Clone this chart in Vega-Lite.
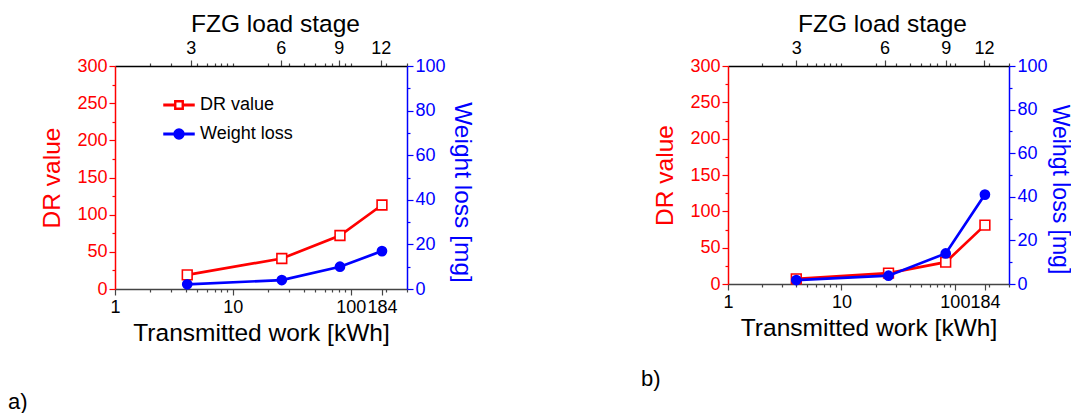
{
  "$schema": "https://vega.github.io/schema/vega-lite/v6.json",
  "padding": {"left": 8, "top": 11, "right": 0, "bottom": 0},
  "background": "white",
  "config": {
    "view": {"stroke": null},
    "font": "Liberation Sans",
    "axis": {"grid": false, "labelFont": "Liberation Sans", "titleFont": "Liberation Sans", "labelFontSize": 18, "titleFontSize": 24.5, "titleFontWeight": "normal", "labelOverlap": false, "labelFlush": false, "labelBound": false, "domainWidth": 1.5, "tickWidth": 1.2}
  },
  "datasets": {
    "a": [
      {"work": 4.1, "series": "DR value", "value": 19},
      {"work": 26, "series": "DR value", "value": 41},
      {"work": 81, "series": "DR value", "value": 72},
      {"work": 184, "series": "DR value", "value": 113},
      {"work": 4.1, "series": "Weight loss", "value": 2.1},
      {"work": 26, "series": "Weight loss", "value": 4.0},
      {"work": 81, "series": "Weight loss", "value": 10},
      {"work": 184, "series": "Weight loss", "value": 17}
    ],
    "b": [
      {"work": 4.0, "series": "DR value", "value": 7},
      {"work": 26, "series": "DR value", "value": 15},
      {"work": 83, "series": "DR value", "value": 30},
      {"work": 184, "series": "DR value", "value": 81},
      {"work": 4.0, "series": "Weight loss", "value": 1.8},
      {"work": 26, "series": "Weight loss", "value": 3.8},
      {"work": 83, "series": "Weight loss", "value": 14},
      {"work": 184, "series": "Weight loss", "value": 41}
    ]
  },
  "hconcat": [
    {
      "width": 292, "height": 223,
      "title": {"text": "a)", "orient": "bottom", "anchor": "start", "frame": "group", "dx": -107, "offset": 47, "fontSize": 22, "fontWeight": "normal", "font": "Liberation Sans", "color": "black"},
      "data": {"name": "a"},
      "layer": [
        {
          "transform": [{"filter": "datum.series === 'DR value'"}],
          "mark": {"type": "line", "strokeWidth": 2.7, "point": {"shape": "square", "filled": false, "fill": "white", "size": 95, "strokeWidth": 1.6}},
          "encoding": {
            "x": {"field": "work", "type": "quantitative", "scale": {"type": "log", "domain": [1, 300]},
              "axis": {"orient": "bottom", "title": "Transmitted work [kWh]", "values": [1,2,3,4,5,6,7,8,9,10,20,30,40,50,60,70,80,90,100,184,200,300],
                "labelExpr": "indexof([1,10,100,184], datum.value) >= 0 ? '' + datum.value : ''",
                "tickSize": {"condition": {"test": "indexof([1,10,100,184], datum.value) >= 0", "value": 6}, "value": 3},
                "domainColor": "#444", "tickColor": "#444", "labelColor": "black", "titleColor": "black", "labelPadding": 3, "titlePadding": 5}},
            "y": {"field": "value", "type": "quantitative", "scale": {"domain": [0, 300]},
              "axis": {"orient": "left", "title": "DR value", "values": [0,25,50,75,100,125,150,175,200,225,250,275,300],
                "labelExpr": "datum.value % 50 === 0 ? '' + datum.value : ''",
                "tickSize": {"condition": {"test": "datum.value % 50 === 0", "value": 6}, "value": 3},
                "domainColor": "#ff0000", "tickColor": "#ff0000", "labelColor": "#ff0000", "titleColor": "#ff0000", "labelPadding": 2, "titlePadding": 12}},
            "color": {"field": "series", "type": "nominal", "scale": {"domain": ["DR value", "Weight loss"], "range": ["#ff0000", "#0000ff"]},
              "legend": {"title": null, "orient": "none", "legendX": 48, "legendY": 23, "padding": 0, "symbolSize": 900, "symbolStrokeWidth": 1.5, "labelFontSize": 18, "labelFont": "Liberation Sans", "labelColor": "black", "labelOffset": 5, "rowPadding": 4,
                "encode": {"symbols": {"update": {
                  "shape": {"signal": "datum.value === 'DR value' ? 'M-1,-0.05H-0.3V0.05H-1ZM0.3,-0.05H1V0.05H0.3ZM-0.28,-0.28H0.28V0.28H-0.28ZM-0.22,-0.22V0.22H0.22V-0.22Z' : 'M-1,-0.05H-0.3V0.05H-1ZM0.3,-0.05H1V0.05H0.3ZM0.33,0A0.33,0.33 0 1 1 -0.33,0A0.33,0.33 0 1 1 0.33,0Z'"}}}}}}
          }
        },
        {
          "transform": [{"filter": "datum.series === 'Weight loss'"}],
          "mark": {"type": "line", "strokeWidth": 2.7, "point": {"shape": "circle", "filled": true, "size": 115}},
          "encoding": {
            "x": {"field": "work", "type": "quantitative", "scale": {"type": "log", "domain": [1, 300]},
              "axis": {"orient": "top", "title": "FZG load stage", "titleX": 160, "values": [2,3,5,6,7,8,9,10,20,30,40,50,60,70,90,100,200,300,4.4,25.5,79,180],
                "labelExpr": "datum.value === 4.4 ? '3' : datum.value === 25.5 ? '6' : datum.value === 79 ? '9' : datum.value === 180 ? '12' : ''",
                "tickSize": {"condition": {"test": "indexof([4.4,25.5,79,180], datum.value) >= 0", "value": 6}, "value": 3},
                "domainColor": "black", "tickColor": "#444", "labelColor": "black", "titleColor": "black", "labelPadding": 3, "titlePadding": 3}},
            "y": {"field": "value", "type": "quantitative", "scale": {"domain": [0, 100]},
              "axis": {"orient": "right", "title": "Weight loss [mg]", "titleY": 126, "values": [0,10,20,30,40,50,60,70,80,90,100],
                "labelExpr": "datum.value % 20 === 0 ? '' + datum.value : ''",
                "tickSize": {"condition": {"test": "datum.value % 20 === 0", "value": 6}, "value": 3},
                "domainColor": "#0000ff", "tickColor": "#0000ff", "labelColor": "#0000ff", "titleColor": "#0000ff", "labelPadding": 2, "titlePadding": 4}},
            "color": {"field": "series", "type": "nominal", "scale": {"domain": ["DR value", "Weight loss"], "range": ["#ff0000", "#0000ff"]},
              "legend": {"title": null, "orient": "none", "legendX": 48, "legendY": 23, "padding": 0, "symbolSize": 900, "symbolStrokeWidth": 1.5, "labelFontSize": 18, "labelFont": "Liberation Sans", "labelColor": "black", "labelOffset": 5, "rowPadding": 4,
                "encode": {"symbols": {"update": {
                  "shape": {"signal": "datum.value === 'DR value' ? 'M-1,-0.05H-0.3V0.05H-1ZM0.3,-0.05H1V0.05H0.3ZM-0.28,-0.28H0.28V0.28H-0.28ZM-0.22,-0.22V0.22H0.22V-0.22Z' : 'M-1,-0.05H-0.3V0.05H-1ZM0.3,-0.05H1V0.05H0.3ZM0.33,0A0.33,0.33 0 1 1 -0.33,0A0.33,0.33 0 1 1 0.33,0Z'"}}}}}}
          }
        }
      ],
      "resolve": {"scale": {"y": "independent"}, "axis": {"x": "independent", "y": "independent"}}
    },
    {
      "width": 281, "height": 218,
      "title": {"text": "b)", "orient": "bottom", "anchor": "start", "frame": "group", "dx": -87, "offset": 29, "fontSize": 22, "fontWeight": "normal", "font": "Liberation Sans", "color": "black"},
      "data": {"name": "b"},
      "layer": [
        {
          "transform": [{"filter": "datum.series === 'DR value'"}],
          "mark": {"type": "line", "strokeWidth": 2.7, "point": {"shape": "square", "filled": false, "fill": "white", "size": 95, "strokeWidth": 1.6}},
          "encoding": {
            "x": {"field": "work", "type": "quantitative", "scale": {"type": "log", "domain": [1, 300]},
              "axis": {"orient": "bottom", "title": "Transmitted work [kWh]", "values": [1,2,3,4,5,6,7,8,9,10,20,30,40,50,60,70,80,90,100,184,200,300],
                "labelExpr": "indexof([1,10,100,184], datum.value) >= 0 ? '' + datum.value : ''",
                "tickSize": {"condition": {"test": "indexof([1,10,100,184], datum.value) >= 0", "value": 6}, "value": 3},
                "domainColor": "#444", "tickColor": "#444", "labelColor": "black", "titleColor": "black", "labelPadding": 3, "titlePadding": 5}},
            "y": {"field": "value", "type": "quantitative", "scale": {"domain": [0, 300]},
              "axis": {"orient": "left", "title": "DR value", "values": [0,25,50,75,100,125,150,175,200,225,250,275,300],
                "labelExpr": "datum.value % 50 === 0 ? '' + datum.value : ''",
                "tickSize": {"condition": {"test": "datum.value % 50 === 0", "value": 6}, "value": 3},
                "domainColor": "#ff0000", "tickColor": "#ff0000", "labelColor": "#ff0000", "titleColor": "#ff0000", "labelPadding": 2, "titlePadding": 12}},
            "color": {"field": "series", "type": "nominal", "scale": {"domain": ["DR value", "Weight loss"], "range": ["#ff0000", "#0000ff"]},
              "legend": {"title": null, "orient": "none", "legendX": 38, "legendY": 19, "padding": 0, "symbolSize": 900, "symbolStrokeWidth": 1.5, "labelFontSize": 18, "labelFont": "Liberation Sans", "labelColor": "black", "labelOffset": 5, "rowPadding": -2,
                "encode": {"symbols": {"update": {
                  "shape": {"signal": "datum.value === 'DR value' ? 'M-1,-0.05H-0.3V0.05H-1ZM0.3,-0.05H1V0.05H0.3ZM-0.28,-0.28H0.28V0.28H-0.28ZM-0.22,-0.22V0.22H0.22V-0.22Z' : 'M-1,-0.05H-0.3V0.05H-1ZM0.3,-0.05H1V0.05H0.3ZM0.33,0A0.33,0.33 0 1 1 -0.33,0A0.33,0.33 0 1 1 0.33,0Z'"}}}}}}
          }
        },
        {
          "transform": [{"filter": "datum.series === 'Weight loss'"}],
          "mark": {"type": "line", "strokeWidth": 2.7, "point": {"shape": "circle", "filled": true, "size": 115}},
          "encoding": {
            "x": {"field": "work", "type": "quantitative", "scale": {"type": "log", "domain": [1, 300]},
              "axis": {"orient": "top", "title": "FZG load stage", "titleX": 154, "values": [2,3,5,6,7,8,9,10,20,30,40,50,60,70,90,100,200,300,4.0,24,83,181],
                "labelExpr": "datum.value === 4 ? '3' : datum.value === 24 ? '6' : datum.value === 83 ? '9' : datum.value === 181 ? '12' : ''",
                "tickSize": {"condition": {"test": "indexof([4,24,83,181], datum.value) >= 0", "value": 6}, "value": 3},
                "domainColor": "black", "tickColor": "#444", "labelColor": "black", "titleColor": "black", "labelPadding": 3, "titlePadding": 3}},
            "y": {"field": "value", "type": "quantitative", "scale": {"domain": [0, 100]},
              "axis": {"orient": "right", "title": "Weihgt loss [mg]", "titleY": 123, "titleFontSize": 23, "values": [0,10,20,30,40,50,60,70,80,90,100],
                "labelExpr": "datum.value % 20 === 0 ? '' + datum.value : ''",
                "tickSize": {"condition": {"test": "datum.value % 20 === 0", "value": 6}, "value": 3},
                "domainColor": "#0000ff", "tickColor": "#0000ff", "labelColor": "#0000ff", "titleColor": "#0000ff", "labelPadding": 2, "titlePadding": 0}},
            "color": {"field": "series", "type": "nominal", "scale": {"domain": ["DR value", "Weight loss"], "range": ["#ff0000", "#0000ff"]},
              "legend": {"title": null, "orient": "none", "legendX": 38, "legendY": 19, "padding": 0, "symbolSize": 900, "symbolStrokeWidth": 1.5, "labelFontSize": 18, "labelFont": "Liberation Sans", "labelColor": "black", "labelOffset": 5, "rowPadding": -2,
                "encode": {"symbols": {"update": {
                  "shape": {"signal": "datum.value === 'DR value' ? 'M-1,-0.05H-0.3V0.05H-1ZM0.3,-0.05H1V0.05H0.3ZM-0.28,-0.28H0.28V0.28H-0.28ZM-0.22,-0.22V0.22H0.22V-0.22Z' : 'M-1,-0.05H-0.3V0.05H-1ZM0.3,-0.05H1V0.05H0.3ZM0.33,0A0.33,0.33 0 1 1 -0.33,0A0.33,0.33 0 1 1 0.33,0Z'"}}}}}}
          }
        }
      ],
      "resolve": {"scale": {"y": "independent"}, "axis": {"x": "independent", "y": "independent"}}
    }
  ],
  "spacing": 166
}
